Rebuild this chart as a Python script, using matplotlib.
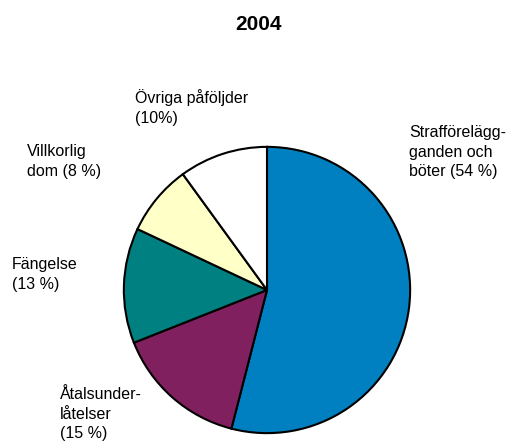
import matplotlib
matplotlib.use("Agg")
import matplotlib.pyplot as plt

title = "2004"
categories = ["Strafförelägg-\nganden och\nböter (54 %)",
              "Åtalsunder-\nlåtelser\n(15 %)",
              "Fängelse\n(13 %)",
              "Villkorlig\ndom (8 %)",
              "Övriga påföljder\n(10%)"]
values = [54, 15, 13, 8, 10]
colors = ["#0080C0", "#80205F", "#008080", "#FFFFC8", "#FFFFFF"]

plt.rcParams['font.family'] = ['Liberation Sans', 'DejaVu Sans']

W, H = 514, 446
fig = plt.figure(figsize=(W/100, H/100), dpi=100)
fig.patch.set_facecolor("white")

cx, cy, r = 267, 290, 146
ax = fig.add_axes([(cx - r)/W, (H - cy - r)/H, 2*r/W, 2*r/H])
ax.pie(values, colors=colors, startangle=90, counterclock=False, radius=1,
       wedgeprops=dict(edgecolor="black", linewidth=1.5))
ax.set_xlim(-1.02, 1.02)
ax.set_ylim(-1.02, 1.02)
ax.set_aspect("equal")
ax.axis("off")

# label anchor positions (pixel: left x, top-line center y)
label_pos = [(409, 134), (60, 396), (12, 266), (27, 153), (135, 98)]
for txt, (lx, ly) in zip(categories, label_pos):
    fig.text(lx/W, 1 - (ly - 9)/H, txt, ha="left", va="top",
             fontsize=11.5, linespacing=1.38, color="black")

fig.text(258/W, 1 - 25/H, title, ha="center", va="center",
         fontsize=15, fontweight="bold")

fig.savefig("out.png", dpi=100, facecolor="white")
